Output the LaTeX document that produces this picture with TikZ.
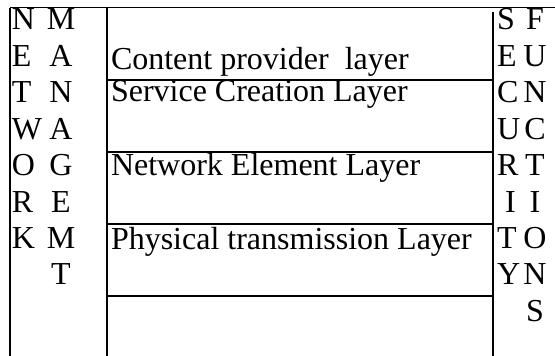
\documentclass[tikz,border=0pt]{standalone}
\usepackage{fontspec}
\setmainfont{Liberation Serif}
\begin{document}
\begin{tikzpicture}[x=1pt,y=-1pt,
  rule/.style={line width=1.5pt, black},
  txt/.style={inner sep=0pt, outer sep=0pt, font=\fontsize{32}{36}\selectfont},
  lw/.style={txt, anchor=base west},
  lc/.style={txt, anchor=base}]
\useasboundingbox (0,0) rectangle (555,356);

% frame and grid
\coordinate (tl) at (10,7.5);
\coordinate (tr) at (555,7.5);
\coordinate (bl) at (10,356);
\coordinate (it) at (107,7.5);
\coordinate (ib) at (107,356);
\coordinate (rt) at (493,12);
\coordinate (rb) at (493,356);
\draw[rule] (tl) -- (tr);
\draw[rule] (tl) -- (bl);
\draw[rule] (it) -- (ib);
\draw[rule] (rt) -- (rb);
\foreach \y [count=\i] in {80,152,224,296} {
  \coordinate (hl\i) at (107,\y);
  \coordinate (hr\i) at (493,\y);
  \draw[rule] (hl\i) -- (hr\i);
}

% layer labels
\node[lw] (content)  at (111,69)  {Content provider\ \ layer};
\node[lw] (service)  at (111,101) {Service Creation Layer};
\node[lw] (element)  at (111,175) {Network Element Layer};
\node[lw] (physical) at (111,249) {Physical transmission Layer};

% vertical words, one letter per row
\def\rowy#1{30+36.4*(#1-1)}
\foreach \c [count=\i] in {N,E,T,W,O,R,K}
  \node[lw] (net\i) at (12,{\rowy{\i}}) {\c};
\foreach \c [count=\i] in {M,A,N,A,G,E,M,T}
  \node[lc] (man\i) at (61,{\rowy{\i}}) {\c};
\foreach \c [count=\i] in {S,E,C,U,R,I,T,Y}
  \node[lw] (sec\i) at (\ifnum\i=6 505\else 497\fi,{\rowy{\i}}) {\c};
\foreach \c [count=\i] in {F,U,N,C,T,I,O,N,S}
  \node[lc] (fun\i) at (535,{\rowy{\i}}) {\c};
\end{tikzpicture}
\end{document}
